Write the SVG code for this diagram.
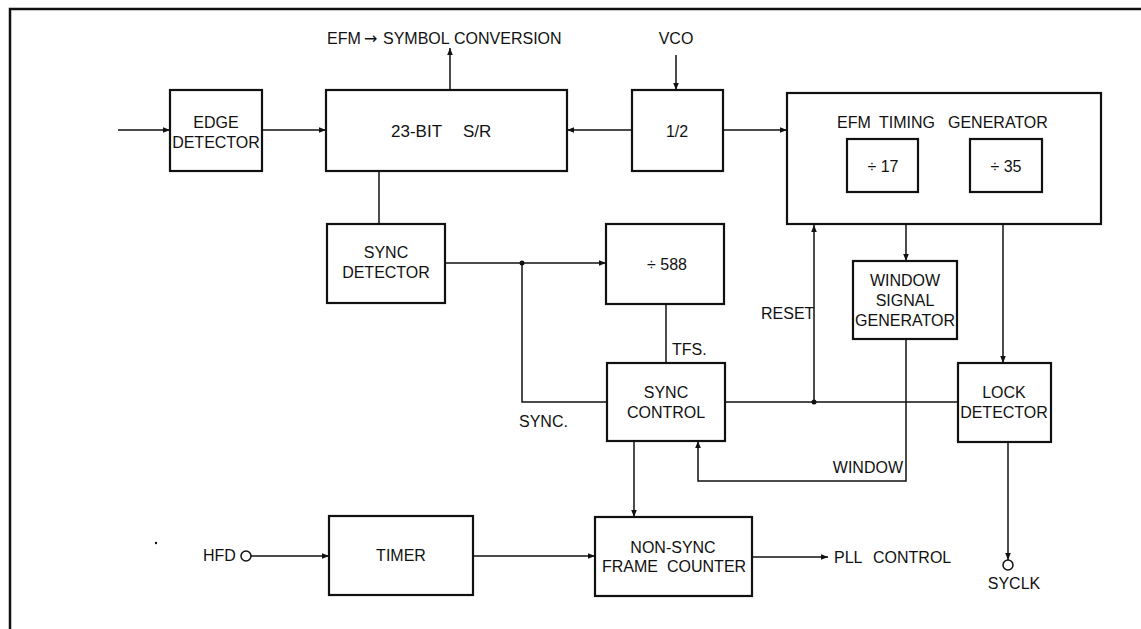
<svg xmlns="http://www.w3.org/2000/svg" width="1141" height="629" viewBox="0 0 1141 629">
<style>
.box{fill:none;stroke:#111;stroke-width:2.2}
.ln{fill:none;stroke:#111;stroke-width:1.5}
.t{font-family:"Liberation Sans",Arial,sans-serif;font-size:16px;fill:#111}
.c{text-anchor:middle}
.frame{fill:none;stroke:#111;stroke-width:2.5}
</style>
<defs>
<marker id="ah" viewBox="0 0 10 10" refX="10" refY="5" markerWidth="8" markerHeight="7" markerUnits="userSpaceOnUse" orient="auto">
<path d="M0,1 L10,5 L0,9 Z" fill="#111"/>
</marker>
</defs>
<rect width="1141" height="629" fill="#fff"/>
<path class="frame" d="M10,629 L10,9 L1141,9"/>
<circle cx="156" cy="543" r="1.2" fill="#111"/>

<g id="edge-detector">
<rect class="box" x="170" y="90" width="92" height="81"/>
<text class="t c" x="216" y="128">EDGE</text>
<text class="t c" x="216" y="148">DETECTOR</text>
</g>
<g id="shift-register">
<rect class="box" x="326" y="90" width="241" height="81"/>
<text class="t" x="391" y="137" style="font-size:17px">23-BIT<tspan x="463">S/R</tspan></text>
</g>
<g id="half">
<rect class="box" x="632" y="90" width="91" height="81"/>
<text class="t c" x="677" y="137">1/2</text>
</g>
<g id="efm-timing-generator">
<rect class="box" x="787" y="93" width="314" height="131"/>
<text class="t" x="837" y="128">EFM<tspan x="879">TIMING</tspan><tspan x="948">GENERATOR</tspan></text>
<rect class="box" x="847" y="139" width="71" height="53"/>
<text class="t c" x="883" y="172">÷ 17</text>
<rect class="box" x="970" y="139" width="72" height="53"/>
<text class="t c" x="1006" y="172">÷ 35</text>
</g>
<g id="sync-detector">
<rect class="box" x="327" y="224" width="118" height="79"/>
<text class="t c" x="386" y="258">SYNC</text>
<text class="t c" x="386" y="278">DETECTOR</text>
</g>
<g id="div588">
<rect class="box" x="606" y="224" width="118" height="80"/>
<text class="t c" x="667" y="270">÷ 588</text>
</g>
<g id="window-signal-generator">
<rect class="box" x="853" y="261" width="104" height="78"/>
<text class="t c" x="905" y="286">WINDOW</text>
<text class="t c" x="905" y="306">SIGNAL</text>
<text class="t c" x="905" y="326">GENERATOR</text>
</g>
<g id="sync-control">
<rect class="box" x="607" y="363" width="118" height="78"/>
<text class="t c" x="666" y="398">SYNC</text>
<text class="t c" x="666" y="418">CONTROL</text>
</g>
<g id="lock-detector">
<rect class="box" x="958" y="363" width="93" height="79"/>
<text class="t c" x="1004" y="398">LOCK</text>
<text class="t c" x="1004" y="418">DETECTOR</text>
</g>
<g id="timer">
<rect class="box" x="329" y="516" width="144" height="79"/>
<text class="t c" x="401" y="561">TIMER</text>
</g>
<g id="non-sync-frame-counter">
<rect class="box" x="595" y="517" width="157" height="79"/>
<text class="t c" x="673" y="553">NON-SYNC</text>
<text class="t" x="602" y="572">FRAME<tspan x="667">COUNTER</tspan></text>
</g>

<g id="connectors">
<path class="ln" d="M118,130 H170" marker-end="url(#ah)"/>
<path class="ln" d="M262,130 H326" marker-end="url(#ah)"/>
<path class="ln" d="M450,90 V48" marker-end="url(#ah)"/>
<path class="ln" d="M676,55 V90" marker-end="url(#ah)"/>
<path class="ln" d="M632,130 H567" marker-end="url(#ah)"/>
<path class="ln" d="M723,130 H787" marker-end="url(#ah)"/>
<path class="ln" d="M379,171 V224"/>
<path class="ln" d="M445,263 H606" marker-end="url(#ah)"/>
<path class="ln" d="M522,263 V402 H607"/>
<circle cx="522" cy="263" r="2.5" fill="#111"/>
<path class="ln" d="M666,304 V363"/>
<path class="ln" d="M725,402 H958"/>
<path class="ln" d="M814,402 V225" marker-end="url(#ah)"/>
<circle cx="814" cy="402" r="2.5" fill="#111"/>
<path class="ln" d="M906,225 V261" marker-end="url(#ah)"/>
<path class="ln" d="M1003,225 V363" marker-end="url(#ah)"/>
<path class="ln" d="M906,339 V481 H698 V441" marker-end="url(#ah)"/>
<path class="ln" d="M634,441 V517" marker-end="url(#ah)"/>
<path class="ln" d="M1008,442 V560" marker-end="url(#ah)"/>
<circle cx="1008" cy="565" r="5" fill="#fff" stroke="#111" stroke-width="1.5"/>
<circle cx="246" cy="556" r="5" fill="#fff" stroke="#111" stroke-width="1.5"/>
<path class="ln" d="M251,556 H329" marker-end="url(#ah)"/>
<path class="ln" d="M473,556 H595" marker-end="url(#ah)"/>
<path class="ln" d="M752,557 H828" marker-end="url(#ah)"/>
</g>

<g id="labels">
<text class="t" x="327" y="44">EFM<tspan x="364" font-family="'DejaVu Sans',sans-serif">→</tspan><tspan x="383">SYMBOL</tspan><tspan x="454">CONVERSION</tspan></text>
<text class="t c" x="676" y="44">VCO</text>
<text class="t" x="761" y="319">RESET</text>
<text class="t" x="672" y="355">TFS.</text>
<text class="t" x="519" y="427">SYNC.</text>
<text class="t" x="903" y="473" text-anchor="end">WINDOW</text>
<text class="t" x="203" y="561">HFD</text>
<text class="t" x="834" y="563">PLL<tspan x="873">CONTROL</tspan></text>
<text class="t c" x="1014" y="589">SYCLK</text>
</g>
</svg>
